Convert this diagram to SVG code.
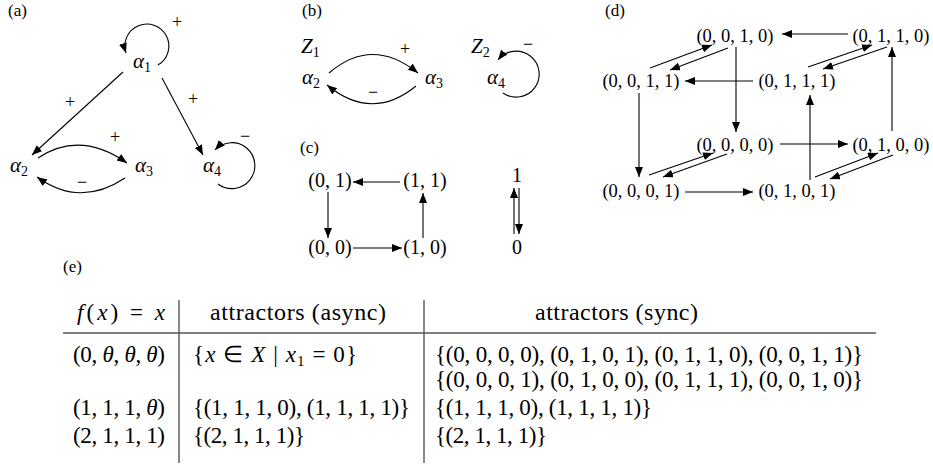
<svg xmlns="http://www.w3.org/2000/svg" width="933" height="468" viewBox="0 0 933 468" font-family="'Liberation Serif', 'Times New Roman', Times, serif">
<style>
text{font-family:'Liberation Serif','Times New Roman',Times,serif;fill:#000}
.lab{font-size:17px}
.al{font-size:21px;font-style:italic}
.sub{font-size:14px;font-style:normal}
.sg{font-size:18px;text-anchor:middle}
.n{font-size:18.5px;text-anchor:middle}
.c{font-size:20px;text-anchor:middle}
.t{font-size:23px}
.h{font-size:24px}
.i{font-style:italic}
.e{fill:none;stroke:#000;stroke-width:1.1}
.rule{fill:none;stroke:#555;stroke-width:1.4}
</style>
<defs>
<marker id="ah" markerUnits="userSpaceOnUse" markerWidth="11" markerHeight="9" refX="10" refY="4" orient="auto">
<path d="M0,0 L10,4 L0,8 z" fill="#000"/>
</marker>
</defs>

<!-- panel labels -->
<text class="lab" x="8" y="16">(a)</text>
<text class="lab" x="302" y="16">(b)</text>
<text class="lab" x="300" y="153">(c)</text>
<text class="lab" x="605" y="16">(d)</text>
<text class="lab" x="63" y="272">(e)</text>

<!-- (a) -->
<g id="a-alpha1"><text class="al" x="133" y="68">α<tspan class="sub" dy="4">1</tspan></text></g>
<g id="a-alpha2"><text class="al" x="10" y="172">α<tspan class="sub" dy="4">2</tspan></text></g>
<g id="a-alpha3"><text class="al" x="135" y="172">α<tspan class="sub" dy="4">3</tspan></text></g>
<g id="a-alpha4"><text class="al" x="203" y="172">α<tspan class="sub" dy="4">4</tspan></text></g>
<g id="a-connectors">
<path class="e" d="M158,65 A22,22 0 1 0 126,53" marker-end="url(#ah)"/>
<path class="e" d="M123,72 L32,155" marker-end="url(#ah)"/>
<path class="e" d="M162,78 L203,155" marker-end="url(#ah)"/>
<path class="e" d="M38,158 Q80,130 127,163" marker-end="url(#ah)"/>
<path class="e" d="M125,178 Q80,208 37,177" marker-end="url(#ah)"/>
<path class="e" d="M218,184 A23,23 0 1 0 215,150" marker-end="url(#ah)"/>
<text class="sg" x="177" y="28">+</text>
<text class="sg" x="70" y="108">+</text>
<text class="sg" x="193" y="105">+</text>
<text class="sg" x="115" y="143">+</text>
<text class="sg" x="82" y="188">−</text>
<text class="sg" x="245" y="142">−</text>
</g>

<!-- (b) -->
<g id="b-z1"><text class="al" x="301" y="53">Z<tspan class="sub" dy="4">1</tspan></text></g>
<g id="b-alpha2"><text class="al" x="302" y="84">α<tspan class="sub" dy="4">2</tspan></text></g>
<g id="b-alpha3"><text class="al" x="425" y="84">α<tspan class="sub" dy="4">3</tspan></text></g>
<g id="b-z2"><text class="al" x="471" y="53">Z<tspan class="sub" dy="4">2</tspan></text></g>
<g id="b-alpha4"><text class="al" x="487" y="84">α<tspan class="sub" dy="4">4</tspan></text></g>
<g id="b-connectors">
<path class="e" d="M329,73 Q372,36 418,73" marker-end="url(#ah)"/>
<path class="e" d="M416,86 Q372,122 327,85" marker-end="url(#ah)"/>
<path class="e" d="M503,93 A23,23 0 1 0 498,60" marker-end="url(#ah)"/>
<text class="sg" x="405" y="55">+</text>
<text class="sg" x="373" y="98">−</text>
<text class="sg" x="528" y="50">−</text>
</g>

<!-- (c) -->
<g id="c-01"><text class="c" x="330" y="187">(0, 1)</text></g>
<g id="c-11"><text class="c" x="425" y="187">(1, 1)</text></g>
<g id="c-00"><text class="c" x="330" y="254">(0, 0)</text></g>
<g id="c-10"><text class="c" x="425" y="254">(1, 0)</text></g>
<g id="c-1"><text class="c" x="517" y="182">1</text></g>
<g id="c-0"><text class="c" x="517" y="254">0</text></g>
<g id="c-connectors">
<path class="e" d="M400,182 L353,182" marker-end="url(#ah)"/>
<path class="e" d="M328,192 L328,238" marker-end="url(#ah)"/>
<path class="e" d="M353,248 L402,248" marker-end="url(#ah)"/>
<path class="e" d="M423,238 L423,193" marker-end="url(#ah)"/>
<path class="e" d="M514,234 L514,188" marker-end="url(#ah)"/>
<path class="e" d="M519,188 L519,234" marker-end="url(#ah)"/>
</g>

<!-- (d) -->
<g id="d-0010"><text class="n" x="735" y="42">(0, 0, 1, 0)</text></g>
<g id="d-0110"><text class="n" x="891" y="42">(0, 1, 1, 0)</text></g>
<g id="d-0011"><text class="n" x="641" y="87">(0, 0, 1, 1)</text></g>
<g id="d-0111"><text class="n" x="797" y="87">(0, 1, 1, 1)</text></g>
<g id="d-0000"><text class="n" x="735" y="151">(0, 0, 0, 0)</text></g>
<g id="d-0100"><text class="n" x="891" y="151">(0, 1, 0, 0)</text></g>
<g id="d-0001"><text class="n" x="641" y="197">(0, 0, 0, 1)</text></g>
<g id="d-0101"><text class="n" x="797" y="197">(0, 1, 0, 1)</text></g>
<g id="d-connectors">
<path class="e" d="M848,34 L782,34" marker-end="url(#ah)"/>
<path class="e" d="M753,81 L685,81" marker-end="url(#ah)"/>
<path class="e" d="M736,47 L736,132" marker-end="url(#ah)"/>
<path class="e" d="M639,93 L639,177" marker-end="url(#ah)"/>
<path class="e" d="M780,144 L848,144" marker-end="url(#ah)"/>
<path class="e" d="M685,192 L753,192" marker-end="url(#ah)"/>
<path class="e" d="M810,180 L810,95" marker-end="url(#ah)"/>
<path class="e" d="M892,131 L892,47" marker-end="url(#ah)"/>
<path class="e" d="M650,68 L712,45" marker-end="url(#ah)"/>
<path class="e" d="M728,48 L670,70" marker-end="url(#ah)"/>
<path class="e" d="M808,67 L872,45" marker-end="url(#ah)"/>
<path class="e" d="M887,47 L823,69" marker-end="url(#ah)"/>
<path class="e" d="M649,175 L713,153" marker-end="url(#ah)"/>
<path class="e" d="M727,154 L663,177" marker-end="url(#ah)"/>
<path class="e" d="M815,177 L878,153" marker-end="url(#ah)"/>
<path class="e" d="M893,155 L830,179" marker-end="url(#ah)"/>
</g>

<!-- (e) table -->
<g id="table">
<path class="rule" d="M179,300 L179,463 M424,300 L424,463 M63,333 L876,333"/>
<text class="t" x="121" y="320" text-anchor="middle" textLength="88"><tspan class="i">f</tspan>(<tspan class="i">x</tspan>) = <tspan class="i">x</tspan></text>
<text class="h" x="210" y="320" textLength="176">attractors (async)</text>
<text class="h" x="535" y="320" textLength="163">attractors (sync)</text>

<text class="t" x="119" y="362" text-anchor="middle" textLength="92">(0, <tspan class="i">θ</tspan>, <tspan class="i">θ</tspan>, <tspan class="i">θ</tspan>)</text>
<text class="t" x="193" y="362" textLength="164">{<tspan class="i">x</tspan> ∈ <tspan class="i">X</tspan> | <tspan class="i">x</tspan><tspan font-size="15" dy="4">1</tspan><tspan dy="-4"> = 0}</tspan></text>
<text class="t" x="435" y="362" textLength="428">{(0, 0, 0, 0), (0, 1, 0, 1), (0, 1, 1, 0), (0, 0, 1, 1)}</text>
<text class="t" x="435" y="387" textLength="428">{(0, 0, 0, 1), (0, 1, 0, 0), (0, 1, 1, 1), (0, 0, 1, 0)}</text>

<text class="t" x="119" y="415" text-anchor="middle" textLength="92">(1, 1, 1, <tspan class="i">θ</tspan>)</text>
<text class="t" x="193" y="415" textLength="217">{(1, 1, 1, 0), (1, 1, 1, 1)}</text>
<text class="t" x="435" y="415" textLength="217">{(1, 1, 1, 0), (1, 1, 1, 1)}</text>

<text class="t" x="119" y="443" text-anchor="middle" textLength="92">(2, 1, 1, 1)</text>
<text class="t" x="193" y="443" textLength="112">{(2, 1, 1, 1)}</text>
<text class="t" x="435" y="443" textLength="112">{(2, 1, 1, 1)}</text>
</g>
</svg>
